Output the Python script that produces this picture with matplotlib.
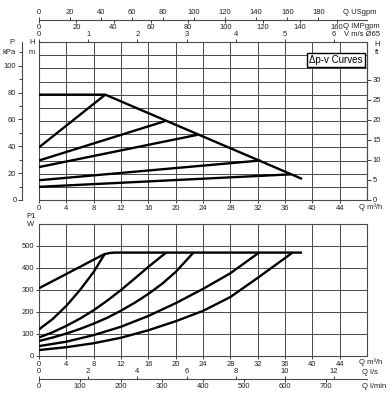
import matplotlib
matplotlib.use("Agg")
import matplotlib.pyplot as plt
import numpy as np

plt.rcParams['font.family'] = ['Liberation Sans', 'DejaVu Sans']
plt.rcParams['font.size'] = 5.5

# ---------------- data ----------------
# Top: delta p-v curves, Q in m3/h, H in m
max_q = [0, 9.7, 38.5]
max_h = [8, 8, 1.6]
dpv_q = [[0, 9.7], [0, 18.5], [0, 23.2], [0, 32.4], [0, 36.9]]
dpv_h = [[4, 8], [3, 6], [2.5, 4.95], [1.5, 3.0], [1.0, 1.95]]

# Bottom: power P1 in W
pmax_q = [0, 9.5, 10.3, 11, 38.5]
pmax_p = [308, 462, 468, 470, 470]
p_q = [
    [0, 2, 4, 6, 8, 9.6],
    [0, 2, 4, 6, 8, 10, 12, 14, 16, 18.6],
    [0, 2, 4, 6, 8, 10, 12, 14, 16, 18, 20, 22.6],
    [0, 4, 8, 12, 16, 20, 24, 28, 32.2],
    [0, 4, 8, 12, 16, 20, 24, 28, 32, 37.1],
]
p_p = [
    [121, 168, 228, 300, 382, 463],
    [84, 108, 137, 170, 208, 252, 300, 352, 405, 470],
    [68, 84, 102, 123, 147, 174, 206, 242, 282, 328, 382, 470],
    [45, 65, 95, 133, 182, 240, 305, 376, 470],
    [27, 40, 58, 83, 117, 158, 205, 268, 355, 470],
]

q_ticks = list(range(0, 48, 4))
h_ticks = [0, 2, 4, 6, 8, 10]
kpa_ticks = [0, 20, 40, 60, 80, 100]
ft_ticks = [0, 5, 10, 15, 20, 25, 30]
w_ticks = [0, 100, 200, 300, 400, 500]
usgpm_ticks = list(range(0, 200, 20))
impgpm_ticks = list(range(0, 180, 20))
v_ticks = [0, 1, 2, 3, 4, 5, 6]
ls_ticks = [0, 2, 4, 6, 8, 10, 12]
lmin_ticks = [0, 100, 200, 300, 400, 500, 600, 700]

QMAX = 48
HMAX = 12
PMAX = 600

W, H = 392, 399
fig = plt.figure(figsize=(W / 100, H / 100), dpi=100)

def fx(px):
    return px / W

def fy(py):
    return 1 - py / H

L, R = 39, 367
ax1 = fig.add_axes([fx(L), fy(200), fx(R - L), (200 - 42) / H])
ax2 = fig.add_axes([fx(L), fy(356), fx(R - L), (356 - 224) / H])

gcol = '#4a4a4a'
tc = '#222'
lw_curve = 1.7

for ax in (ax1, ax2):
    ax.set_xlim(0, QMAX)
    ax.set_xticks(q_ticks)
    for s in ax.spines.values():
        s.set_color(gcol)
        s.set_linewidth(0.8)
    ax.tick_params(axis='x', length=2, pad=1.5, width=0.6, colors=tc)
    ax.tick_params(axis='y', length=2, pad=1.5, width=0.6, colors=tc)
    for q in q_ticks[1:]:
        ax.axvline(q, color=gcol, lw=0.7, zorder=1)

# top plot
ax1.set_ylim(0, HMAX)
ax1.set_yticks(h_ticks)
for h in range(1, HMAX):
    ax1.axhline(h, color=gcol, lw=0.7, zorder=1)
ax1.plot(max_q, max_h, color='black', lw=lw_curve, solid_capstyle='butt', zorder=3)
for q, h in zip(dpv_q, dpv_h):
    ax1.plot(q, h, color='black', lw=lw_curve, solid_capstyle='butt', zorder=3)

ax1.text(0.905, 0.886, 'Δp-v Curves', transform=ax1.transAxes, ha='center', va='center',
         fontsize=7, family=['Liberation Sans Narrow', 'Liberation Sans', 'DejaVu Sans'],
         bbox=dict(boxstyle='square,pad=0.25', fc='white', ec='black', lw=1.0), zorder=5)

# P kPa axis
ax_p = ax1.twinx()
ax_p.set_ylim(0, HMAX * 9.81)
ax_p.yaxis.set_ticks_position('left')
ax_p.yaxis.set_label_position('left')
ax_p.spines['left'].set_position(('outward', 17 * 0.72))
for k in ('right', 'top', 'bottom'):
    ax_p.spines[k].set_visible(False)
ax_p.spines['left'].set_color(gcol)
ax_p.spines['left'].set_linewidth(0.8)
ax_p.set_yticks(kpa_ticks)
ax_p.set_yticks(list(range(10, 120, 20)), minor=True)
ax_p.tick_params(axis='y', which='major', length=3, pad=1, width=0.6, colors=tc)
ax_p.tick_params(axis='y', which='minor', length=2, width=0.6, colors=tc)

# H ft axis
ax_ft = ax1.twinx()
ax_ft.set_ylim(0, HMAX / 0.3048)
ax_ft.set_yticks(ft_ticks)
for k in ('left', 'top', 'bottom'):
    ax_ft.spines[k].set_visible(False)
ax_ft.spines['right'].set_color(gcol)
ax_ft.spines['right'].set_linewidth(0.8)
ax_ft.tick_params(axis='y', length=3, pad=1, width=0.6, colors=tc)

# V m/s on top spine
ax_v = ax1.twiny()
ax_v.set_xlim(0, QMAX / 7.2)
ax_v.set_xticks(v_ticks)
ax_v.tick_params(axis='x', length=2.5, pad=0.5, width=0.6, colors=tc)
for s in ax_v.spines.values():
    s.set_visible(False)
ax_v.set_yticks([])

def line_axis(ypx, xmax, ticks, where, pad):
    a = fig.add_axes([fx(L), fy(ypx), fx(R - L), 1e-4])
    a.set_xlim(0, xmax)
    a.set_xticks(ticks)
    a.xaxis.set_ticks_position(where)
    a.set_yticks([])
    for s in a.spines.values():
        s.set_visible(False)
    if where == 'top':
        a.spines['top'].set_visible(True)
        a.spines['top'].set_color(gcol)
        a.spines['top'].set_linewidth(0.8)
    a.tick_params(axis='x', length=2.5, pad=pad, width=0.6, colors=tc)
    a.patch.set_visible(False)
    return a

# USgpm / IMPgpm line
line_axis(20, QMAX * 4.403, usgpm_ticks, 'top', 0.5)
line_axis(20, QMAX * 3.666, impgpm_ticks, 'bottom', 0.3)

# bottom plot
ax2.set_ylim(0, PMAX)
ax2.set_yticks(w_ticks)
for p in range(100, PMAX, 100):
    ax2.axhline(p, color=gcol, lw=0.7, zorder=1)
ax2.plot(pmax_q, pmax_p, color='black', lw=lw_curve, solid_capstyle='butt', zorder=3)
for q, p in zip(p_q, p_p):
    ax2.plot(q, p, color='black', lw=lw_curve, solid_capstyle='butt', zorder=3)

# l/s and l/min line
line_axis(379, QMAX / 3.6, ls_ticks, 'top', 0.5)
line_axis(379, QMAX / 0.06, lmin_ticks, 'bottom', 0.5)

# axis unit labels
def t(x, y, s, ha='left'):
    fig.text(fx(x), fy(y), s, ha=ha, va='center', fontsize=5.5, color=tc)

t(343, 13, 'Q USgpm')
t(343, 26, 'Q IMPgpm')
t(344, 35, 'V m/s Ø65')
t(12, 43, 'P', ha='center')
t(9, 52, 'kPa', ha='center')
t(32, 43, 'H', ha='center')
t(32, 52, 'm', ha='center')
t(377, 45, 'H', ha='center')
t(377, 53, 'ft', ha='center')
t(359, 207, 'Q m³/h')
t(31, 217, 'P1', ha='center')
t(31, 225, 'W', ha='center')
t(359, 362, 'Q m³/h')
t(362, 373, 'Q l/s')
t(362, 387, 'Q l/min')

fig.savefig('out.png', dpi=100)
